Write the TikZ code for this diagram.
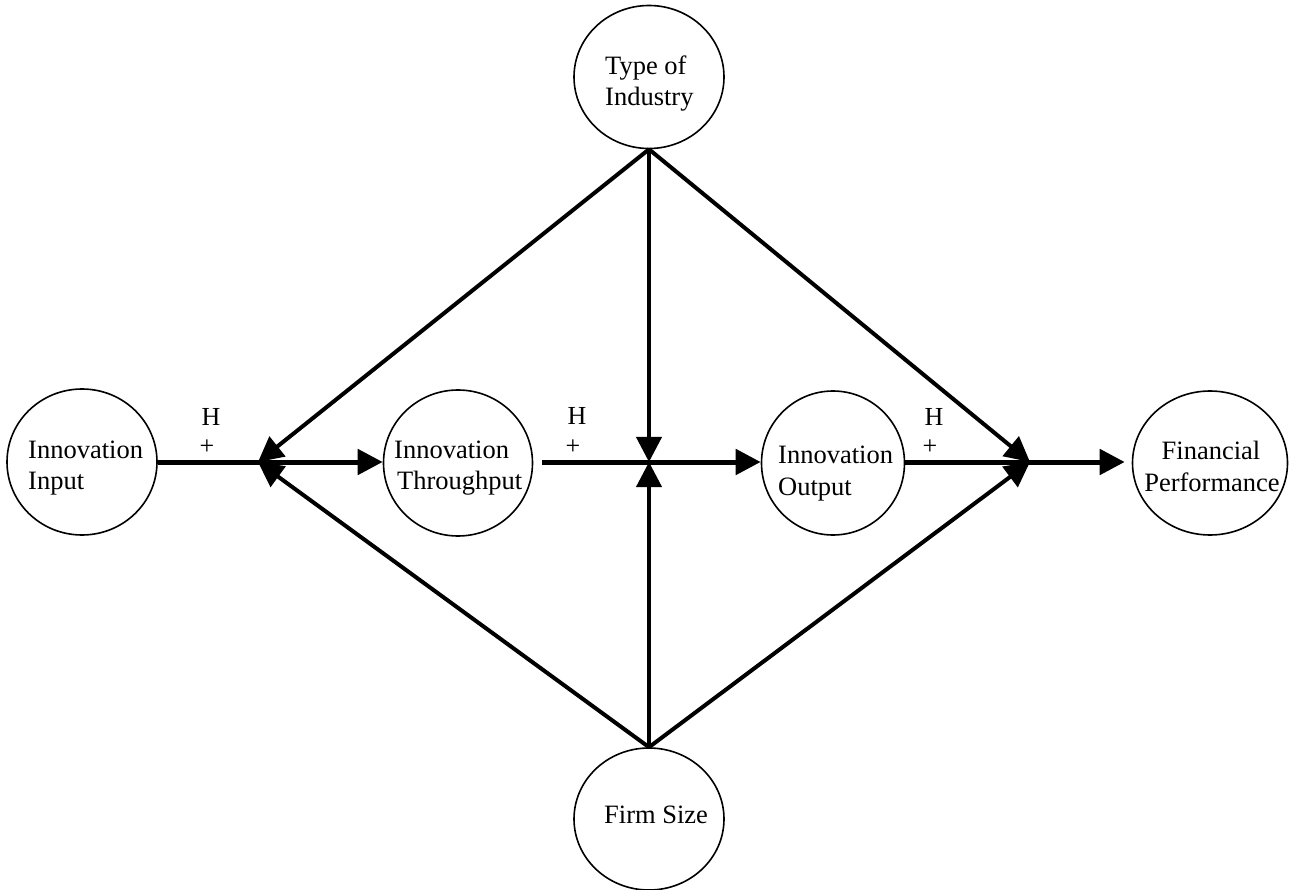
\documentclass[tikz,border=0pt]{standalone}
\usepackage{fontspec}
\setmainfont{Liberation Serif}
\usetikzlibrary{arrows.meta,shapes.geometric}
\begin{document}
\begin{tikzpicture}[x=1pt,y=-1pt,
  var/.style={draw, line width=1.6pt, ellipse, inner sep=0pt},
  txt/.style={inner sep=0pt, font=\fontsize{26.5}{31}\selectfont},
  lbl/.style={inner sep=0pt, font=\fontsize{26}{30}\selectfont},
  conn/.style={line width=4pt},
  harr/.style={line width=5pt},
  tipend/.style={-{Triangle[length=25pt,width=25pt]}},
]
\useasboundingbox (0,0) rectangle (1296,890);

% variables (circles)
\node[var, minimum width=150pt, minimum height=146pt] (in)   at (82,462)   {};
\node[var, minimum width=149pt, minimum height=146pt] (thr)  at (458,463)  {};
\node[var, minimum width=143pt, minimum height=144pt] (out)  at (833,463)  {};
\node[var, minimum width=155pt, minimum height=144pt] (fin)  at (1210,463) {};
\node[var, minimum width=150pt, minimum height=143pt] (toi)  at (649,77)   {};
\node[var, minimum width=150pt, minimum height=142pt] (firm) at (649,819)  {};

% texts
\node[txt, anchor=base west] (inA)  at (28,458)  {Innovation};
\node[txt, anchor=base west] (inB)  at (28,489)  {Input};
\node[txt, anchor=base west] (thrA) at (394,458) {Innovation};
\node[txt, anchor=base west] (thrB) at (397,489) {Throughput};
\node[txt, anchor=base west] (outA) at (778,464) {Innovation};
\node[txt, anchor=base west] (outB) at (778,495) {Output};
\node[txt, anchor=base]      (finA) at (1211,459) {Financial};
\node[txt, anchor=base]      (finB) at (1212,491) {Performance};
\node[txt, anchor=base west] (toiA) at (605,75)  {Type of};
\node[txt, anchor=base west] (toiB) at (605,106) {Industry};
\node[txt, anchor=base west] (firmA) at (604,823) {Firm Size};

\coordinate (J1) at (258,462);
\coordinate (J2) at (649,462);
\coordinate (J3) at (1030,462);

% horizontal chain
\draw[harr] (J1 -| in.east) -- (J1);
\draw[harr,tipend] (J1) -- (J1 -| thr.west);
\draw[harr,tipend] ([xshift=9pt]J2 -| thr.east) -- (J2 -| out.west);
\draw[harr] (J3 -| out.east) -- (J3);
\draw[harr,tipend,shorten >=7pt] (J3) -- (J3 -| fin.west);

% moderators
\draw[conn,tipend] (toi.south) -- (J1);
\draw[conn,tipend] (firm.north) -- (J1);
\draw[conn,tipend] (toi.south) -- (J2);
\draw[conn,tipend] (firm.north) -- (J2);
\draw[conn,tipend] (toi.south) -- (J3);
\draw[conn,tipend] (firm.north) -- (J3);

% hypothesis labels
\node[lbl] (h1) at (211,417) {H};
\node[lbl] (p1) at (207,447) {+};
\node[lbl] (h2) at (577,416) {H};
\node[lbl] (p2) at (573,447) {+};
\node[lbl] (h3) at (934,417) {H};
\node[lbl] (p3) at (930,447) {+};
\end{tikzpicture}
\end{document}
